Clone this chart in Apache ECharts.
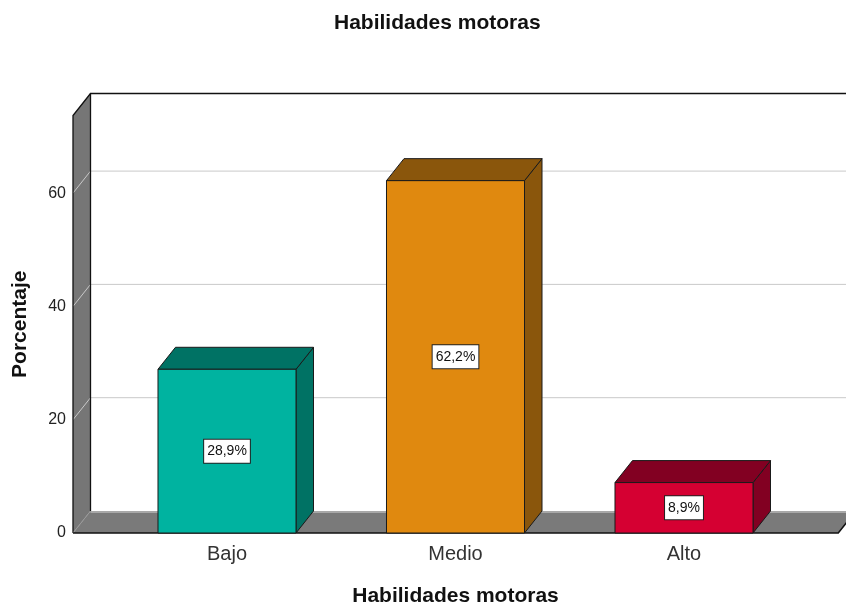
<!DOCTYPE html>
<html>
<head>
<meta charset="utf-8">
<script src="https://cdn.jsdelivr.net/npm/echarts@6/dist/echarts.min.js"></script>
<style>
  html, body { margin: 0; padding: 0; background: #fff; }
  #chart { width: 846px; height: 609px; }
</style>
</head>
<body>
<div id="chart"></div>
<script>
  // datos del grafico
  var categorias = ['Bajo', 'Medio', 'Alto']
  var porcentajes = [28.9, 62.2, 8.9]
  var marcasY = [20, 40, 60]
  var colorFrente = ['#00b3a0', '#e0890f', '#d50032']
  var colorOscuro = ['#007264', '#8a560c', '#820022']

  var DX = 17.5, DY = -22      // desplazamiento de profundidad 3D
  var FUENTE = '"Liberation Sans", Arial, sans-serif'

  function fmt (v) {
    return v.toFixed(1).replace('.', ',') + '%'
  }

  // paredes, suelo y rejilla
  function renderCaja (params, api) {
    var cs = params.coordSys
    var x0 = cs.x - 39.75
    var x1 = cs.x + cs.width + 40
    var yt = cs.y
    var yb = cs.y + cs.height
    var hijos = []
    hijos.push({ type: 'rect', shape: { x: x0 + DX, y: yt + DY, width: 900, height: cs.height }, style: { fill: '#fff' } })
    hijos.push({ type: 'polygon', shape: { points: [[x0, yt], [x0 + DX, yt + DY], [x0 + DX, yb + DY], [x0, yb]] }, style: { fill: '#767676' } })
    hijos.push({ type: 'polygon', shape: { points: [[x0, yb], [x1, yb], [x1 + DX, yb + DY], [x0 + DX, yb + DY]] }, style: { fill: '#7a7a7a' } })
    hijos.push({ type: 'line', shape: { x1: x0 + DX, y1: yb + DY + 1, x2: 900, y2: yb + DY + 1 }, style: { stroke: '#a8a8a8', lineWidth: 2 } })
    marcasY.forEach(function (v) {
      var y = api.coord([0, v])[1]
      hijos.push({ type: 'polyline', shape: { points: [[x0, y], [x0 + DX, y + DY], [900, y + DY]] }, style: { stroke: '#c9c9c9', lineWidth: 1, fill: null } })
    })
    // bordes
    hijos.push({ type: 'polyline', shape: { points: [[x0, yb], [x0, yt], [x0 + DX, yt + DY], [900, yt + DY]] }, style: { stroke: '#111', lineWidth: 1.3, fill: null } })
    hijos.push({ type: 'line', shape: { x1: x0 + DX, y1: yt + DY, x2: x0 + DX, y2: yb + DY }, style: { stroke: '#111', lineWidth: 1.3 } })
    hijos.push({ type: 'line', shape: { x1: x0, y1: yb, x2: x0 + DX, y2: yb + DY }, style: { stroke: '#999', lineWidth: 1 } })
    hijos.push({ type: 'polyline', shape: { points: [[x0, yb], [x1, yb], [x1 + DX, yb + DY]] }, style: { stroke: '#111', lineWidth: 1.5, fill: null } })
    return { type: 'group', children: hijos }
  }

  // barras 3D
  function renderBarra (params, api) {
    var i = params.dataIndex
    var base = api.coord([api.value(0), 0])
    var tope = api.coord([api.value(0), api.value(1)])
    var w = api.size([1, 0])[0] * 0.604
    var xa = base[0] - w / 2, xb = base[0] + w / 2
    var yt = tope[1], yb = base[1]
    var borde = { stroke: '#1a1a1a', lineWidth: 1 }
    return {
      type: 'group',
      children: [
        { type: 'polygon', shape: { points: [[xb, yt], [xb + DX, yt + DY], [xb + DX, yb + DY], [xb, yb]] },
          style: Object.assign({ fill: colorOscuro[i] }, borde) },
        { type: 'polygon', shape: { points: [[xa, yt], [xa + DX, yt + DY], [xb + DX, yt + DY], [xb, yt]] },
          style: Object.assign({ fill: colorOscuro[i] }, borde) },
        { type: 'rect', shape: { x: xa, y: yt, width: w, height: yb - yt },
          style: Object.assign({ fill: colorFrente[i] }, borde) },
        { type: 'text', x: base[0], y: (yt + yb) / 2,
          style: { text: fmt(api.value(1)), align: 'center', verticalAlign: 'middle',
            fontSize: 14, fontFamily: FUENTE, fill: '#111',
            backgroundColor: '#fff', borderColor: '#222', borderWidth: 1, padding: [5, 3, 4, 3] } }
      ]
    }
  }

  var chart = echarts.init(document.getElementById('chart'))
  chart.setOption({
    animation: false,
    title: {
      text: 'Habilidades motoras',
      left: 329,
      top: 8,
      textStyle: { fontFamily: FUENTE, fontSize: 21, fontWeight: 'bold', color: '#111' }
    },
    grid: { left: 112.75, right: 47.75, top: 115.5, bottom: 76, outerBoundsMode: 'none' },
    xAxis: {
      type: 'category',
      data: categorias,
      axisLine: { show: false },
      axisTick: { show: false },
      axisLabel: { fontFamily: FUENTE, fontSize: 20, color: '#333', margin: 11 },
      name: 'Habilidades motoras',
      nameLocation: 'middle',
      nameGap: 53,
      nameTextStyle: { fontFamily: FUENTE, fontSize: 21, fontWeight: 'bold', color: '#111' }
    },
    yAxis: {
      type: 'value',
      min: 0,
      max: 73.7,
      interval: 20,
      offset: 39.75,
      axisLine: { show: false },
      axisTick: { show: false },
      splitLine: { show: false },
      axisLabel: { fontFamily: FUENTE, fontSize: 16, color: '#222', margin: 7, showMaxLabel: false, padding: [4, 0, 0, 0] },
      name: 'Porcentaje',
      nameLocation: 'middle',
      nameGap: 42,
      nameTextStyle: { fontFamily: FUENTE, fontSize: 21, fontWeight: 'bold', color: '#111' }
    },
    series: [
      {
        type: 'custom',
        clip: false,
        z: 1,
        renderItem: renderCaja,
        data: [[0, 0]]
      },
      {
        type: 'custom',
        clip: false,
        z: 2,
        renderItem: renderBarra,
        data: categorias.map(function (c, i) { return [i, porcentajes[i]] })
      }
    ]
  })
</script>
</body>
</html>
